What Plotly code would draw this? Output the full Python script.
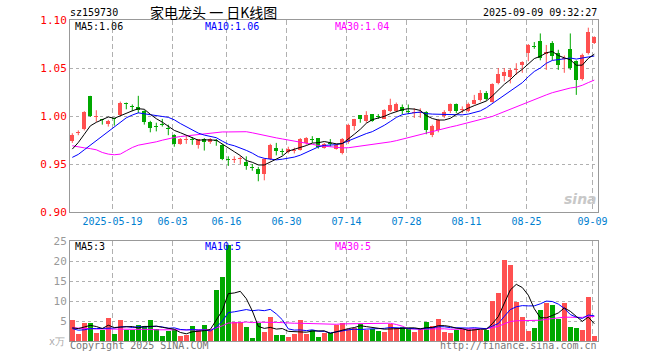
import plotly.graph_objects as go
import pandas as pd

# ---------------- data ----------------
date_labels = ["2025-05-19", "06-03", "06-16", "06-30", "07-14", "07-28", "08-11", "08-25", "09-09"]
date_index = [7, 17, 26, 36, 46, 56, 66, 76, 87]

opens = [0.974, 0.982, 0.986, 1.021, 0.999, 0.997, 0.992, 0.9975, 1.001, 1.013,
         1.010, 1.009, 1.005, 0.994, 0.990, 0.992, 0.988, 0.980, 0.971, 0.975,
         0.976, 0.970, 0.976, 0.973, 0.975, 0.970, 0.955, 0.9545, 0.955, 0.952,
         0.947, 0.945, 0.940, 0.955, 0.967, 0.963, 0.962, 0.964, 0.965, 0.972,
         0.976, 0.977, 0.967, 0.972, 0.966, 0.961, 0.973, 0.990, 1.001, 0.995,
         1.002, 1.000, 0.997, 1.005, 1.005, 1.009, 1.005, 1.0035, 1.003, 1.004,
         0.980, 0.985, 1.000, 1.005, 1.012, 1.006, 1.005, 1.013, 1.017, 1.024,
         1.015, 1.034, 1.042, 1.041, 1.048, 1.053, 1.066, 1.073, 1.078, 1.065,
         1.076, 1.066, 1.059, 1.070, 1.057, 1.039, 1.066, 1.076]
highs = [0.982, 0.985, 1.005, 1.021, 1.006, 0.997, 0.996, 0.998, 1.015, 1.014,
         1.012, 1.021, 1.006, 0.995, 0.993, 0.997, 0.991, 0.981, 0.977, 0.979,
         0.978, 0.976, 0.977, 0.977, 0.976, 0.971, 0.958, 0.958, 0.958, 0.958,
         0.950, 0.947, 0.956, 0.971, 0.972, 0.966, 0.968, 0.967, 0.977, 0.978,
         0.979, 0.977, 0.972, 0.976, 0.971, 0.977, 0.992, 0.997, 1.001, 1.005,
         1.002, 1.002, 1.007, 1.018, 1.014, 1.012, 1.012, 1.008, 1.008, 1.005,
         0.991, 0.997, 1.006, 1.013, 1.013, 1.010, 1.014, 1.022, 1.027, 1.026,
         1.034, 1.050, 1.050, 1.050, 1.055, 1.057, 1.075, 1.077, 1.086, 1.074,
         1.078, 1.069, 1.063, 1.086, 1.058, 1.065, 1.092, 1.083]
lows = [0.972, 0.980, 0.985, 0.999, 0.994, 0.991, 0.989, 0.990, 1.000, 1.007,
        1.005, 1.003, 0.991, 0.983, 0.984, 0.989, 0.980, 0.968, 0.970, 0.971,
        0.970, 0.966, 0.964, 0.971, 0.969, 0.954, 0.948, 0.951, 0.950, 0.944,
        0.943, 0.932, 0.933, 0.954, 0.959, 0.959, 0.961, 0.961, 0.964, 0.970,
        0.972, 0.966, 0.966, 0.968, 0.965, 0.960, 0.971, 0.985, 0.993, 0.993,
        0.994, 0.997, 0.997, 1.004, 1.004, 1.002, 1.002, 0.998, 0.998, 0.981,
        0.978, 0.983, 0.998, 1.003, 1.003, 1.003, 1.004, 1.012, 1.015, 1.016,
        1.014, 1.033, 1.036, 1.034, 1.043, 1.045, 1.057, 1.070, 1.058, 1.048,
        1.058, 1.048, 1.045, 1.048, 1.022, 1.037, 1.064, 1.075]
closes = [0.980, 0.983, 1.004, 1.000, 1.000, 0.996, 0.995, 0.997, 1.014, 1.012,
          1.009, 1.006, 0.994, 0.988, 0.989, 0.991, 0.986, 0.971, 0.976, 0.976,
          0.975, 0.976, 0.973, 0.976, 0.974, 0.955, 0.954, 0.955, 0.956, 0.948,
          0.946, 0.940, 0.955, 0.970, 0.964, 0.962, 0.966, 0.965, 0.976, 0.977,
          0.975, 0.968, 0.971, 0.971, 0.970, 0.976, 0.991, 0.997, 0.997, 1.001,
          0.995, 0.999, 1.006, 1.011, 1.012, 1.005, 1.004, 1.004, 1.004, 0.985,
          0.990, 0.996, 1.004, 1.013, 1.005, 1.007, 1.012, 1.017, 1.024, 1.018,
          1.033, 1.044, 1.046, 1.048, 1.049, 1.056, 1.074, 1.072, 1.060, 1.067,
          1.063, 1.053, 1.060, 1.050, 1.038, 1.064, 1.088, 1.082]
volumes = [5.2, 1.7, 4.6, 4.6, 2.0, 2.7, 5.8, 1.7, 5.2, 2.7,
           2.7, 3.9, 3.7, 5.2, 3.1, 1.2, 2.4, 2.8, 1.2, 1.4,
           3.7, 2.7, 3.9, 2.7, 12.7, 16.0, 23.9, 4.75, 4.75, 3.5,
           0.75, 4.5, 2.25, 6.0, 1.4, 1.4, 1.0, 1.7, 5.2, 1.7,
           2.8, 1.0, 2.0, 2.0, 3.9, 4.5, 3.1, 3.3, 4.3, 2.8,
           3.1, 2.4, 2.2, 4.3, 3.3, 3.5, 3.1, 2.25, 3.1, 4.75,
           3.7, 5.4, 2.25, 2.0, 2.7, 3.1, 3.1, 3.1, 2.7, 2.7,
           10.0, 12.0, 20.2, 18.9, 9.75, 6.0, 2.4, 3.25, 7.7, 9.6,
           8.9, 5.6, 9.5, 3.5, 3.25, 2.7, 11.0, 1.2]

# moving-average values before the window is full
ma5_head = [0.9655, 0.9724, 0.981, 0.9897]
ma10_head = [0.9569, 0.960, 0.9648, 0.9696, 0.974, 0.9786, 0.9834, 0.988, 0.9931]
ma30_head = [0.9690, 0.9675, 0.9668, 0.9660, 0.9648, 0.9620, 0.9603, 0.9596, 0.9603,
             0.9638, 0.9672, 0.9696, 0.9707, 0.9717, 0.9731, 0.9748, 0.9765, 0.9776,
             0.9786, 0.9793, 0.9800, 0.9810, 0.9820, 0.9827, 0.9834, 0.9834, 0.9834,
             0.9834, 0.9834]
vma5_head = [3.3, 3.1, 3.5, 3.9]
vma10_head = [3.1, 2.7, 2.8, 3.1, 3.1, 3.1, 3.1, 3.25, 3.5]
vma30_head = [3.3, 3.2, 3.1, 3.1, 3.0, 3.0, 3.0, 3.0, 3.0, 2.9, 2.9, 2.9, 2.9, 2.9,
              2.8, 2.8, 2.8, 2.8, 2.8, 2.8, 2.8, 2.8, 2.8, 2.8, 3.3, 3.8, 4.5, 4.5, 4.6]

title_code = "sz159730"
title_name = "家电龙头 一 日K线图"
title_time = "2025-09-09 09:32:27"
price_ticks = [0.90, 0.95, 1.00, 1.05, 1.10]
vol_ticks = [5, 10, 15, 20, 25]
legend_price = ["MA5:1.06", "MA10:1.06", "MA30:1.04"]
legend_vol = ["MA5:3", "MA10:5", "MA30:5"]

# ---------------- derived ----------------
n = len(closes)
idx = list(range(n))


def rolling(vals, w, head):
    r = pd.Series(vals).rolling(w).mean().tolist()
    r[:len(head)] = head
    return r


ma5 = rolling(closes, 5, ma5_head)
ma10 = rolling(closes, 10, ma10_head)
ma30 = rolling(closes, 30, ma30_head)
vma5 = rolling(volumes, 5, vma5_head)
vma10 = rolling(volumes, 10, vma10_head)
vma30 = rolling(volumes, 30, vma30_head)

UP = "#ff5050"
DOWN = "#00a800"
colors = [UP if c >= o else DOWN for o, c in zip(opens, closes)]

MONO = "DejaVu Sans Mono"
W, H = 660, 360
ML, MR, MT, MB = 70, 62, 20, 19
PW, PH = W - ML - MR, H - MT - MB


def pxx(x):
    return (x - ML) / PW


def pyy(y):
    return (H - MB - y) / PH


fig = go.Figure()

# wicks
for col in (UP, DOWN):
    xs, ys = [], []
    for i in idx:
        if colors[i] == col:
            xs += [i, i, None]
            ys += [lows[i], highs[i], None]
    fig.add_trace(go.Scatter(x=xs, y=ys, mode="lines", line=dict(color=col, width=1),
                             hoverinfo="skip", showlegend=False, xaxis="x", yaxis="y"))

# bodies
base = [min(o, c) for o, c in zip(opens, closes)]
height = [max(abs(c - o), 0.0011) for o, c in zip(opens, closes)]
fig.add_trace(go.Bar(x=idx, y=height, base=base, width=0.68, marker=dict(color=colors, line=dict(width=0)),
                     hoverinfo="skip", showlegend=False, xaxis="x", yaxis="y"))

for vals, col in ((ma30, "#ff00ff"), (ma10, "#0000ff"), (ma5, "#000000")):
    fig.add_trace(go.Scatter(x=idx, y=vals, mode="lines", line=dict(color=col, width=1),
                             hoverinfo="skip", showlegend=False, xaxis="x", yaxis="y"))

# volume
fig.add_trace(go.Bar(x=idx, y=volumes, width=0.75, marker=dict(color=colors, line=dict(width=0)),
                     hoverinfo="skip", showlegend=False, xaxis="x2", yaxis="y2"))
for vals, col in ((vma30, "#ff00ff"), (vma10, "#0000ff"), (vma5, "#000000")):
    fig.add_trace(go.Scatter(x=idx, y=vals, mode="lines", line=dict(color=col, width=1),
                             hoverinfo="skip", showlegend=False, xaxis="x2", yaxis="y2"))

grid_pos = [d - 0.3 for d in date_index]
xr = [-2.3 / 6, -2.3 / 6 + PW / 6]
price_bottom = 212
vol_top = 241

xcommon = dict(range=xr, tickvals=grid_pos, showgrid=True, gridcolor="#b0b0b0", griddash="5px,3px",
               gridwidth=1, showline=True, mirror=True, linecolor="#999999", linewidth=1,
               zeroline=False, ticks="", fixedrange=True)

fig.update_layout(
    width=W, height=H,
    margin=dict(l=ML, r=MR, t=MT, b=MB, autoexpand=False),
    paper_bgcolor="white", plot_bgcolor="white",
    barmode="overlay", bargap=0,
    showlegend=False,
    font=dict(family=MONO, size=10, color="#000"),
    xaxis=dict(domain=[0, 1], anchor="y", ticktext=date_labels, showticklabels=True,
               tickfont=dict(family=MONO, size=10, color="#0080d0"), **xcommon),
    yaxis=dict(domain=[pyy(price_bottom), 1], anchor="x", range=[0.90, 1.10], tickvals=price_ticks,
               ticktext=["%.2f" % v for v in price_ticks], tickfont=dict(family=MONO, size=11, color="#ff0000"),
               showgrid=True, gridcolor="#b0b0b0", griddash="dot", showline=True, mirror=True,
               linecolor="#999999", linewidth=1, zeroline=False, ticks="", fixedrange=True),
    xaxis2=dict(domain=[0, 1], anchor="y2", showticklabels=False, **xcommon),
    yaxis2=dict(domain=[0, pyy(vol_top)], anchor="x2", range=[0, 25], tickvals=vol_ticks,
                ticktext=[str(v) for v in vol_ticks], tickfont=dict(family=MONO, size=11, color="#999999"),
                showgrid=True, gridcolor="#b0b0b0", griddash="dot", showline=True, mirror=True,
                linecolor="#999999", linewidth=1, zeroline=False, ticks="", fixedrange=True),
)


def ann(text, x, y, color="#000", size=10, xanchor="left", family=MONO, **kw):
    fig.add_annotation(text=text, x=pxx(x), y=pyy(y), xref="paper", yref="paper", showarrow=False,
                       xanchor=xanchor, yanchor="middle", font=dict(family=family, size=size, color=color),
                       borderpad=0, **kw)


ann(title_code, 69, 12, size=10)
ann(title_name, 213, 12, size=14, xanchor="center", family="Noto Sans CJK SC")
ann(title_time, 598, 12, size=10, xanchor="right")

lc = ["#000000", "#0000ff", "#ff00ff"]
for t, x, c in zip(legend_price, (74, 204, 334), lc):
    ann(t, x, 26, color=c)
for t, x, c in zip(legend_vol, (74, 204, 334), lc):
    ann(t, x, 246, color=c)

ann("x万", 66, 341, color="#aaaaaa", size=10, xanchor="right")
ann("Copyright 2025 SINA.COM", 69, 346, color="#777777")
ann("http://finance.sina.com.cn", 598, 346, color="#777777", xanchor="right")

# watermark
ann("<b><i>sina</i></b>", 580, 199, color="#c8c8c8", size=14, xanchor="center", family="DejaVu Sans")

fig.write_html("out.html", config={"displayModeBar": False, "staticPlot": True},
               post_script="document.body.style.margin='0px';")
